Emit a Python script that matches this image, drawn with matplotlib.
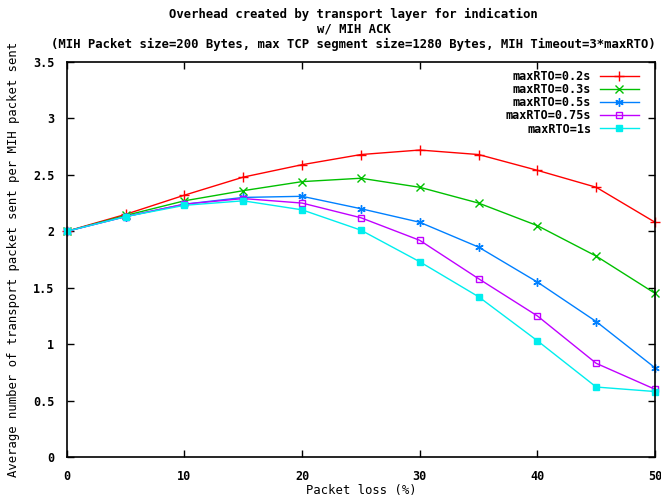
import matplotlib
matplotlib.use('Agg')
from matplotlib import pyplot as plt

packet_loss = [0, 5, 10, 15, 20, 25, 30, 35, 40, 45, 50]
rto_02 = [2.0, 2.15, 2.32, 2.48, 2.59, 2.68, 2.72, 2.68, 2.54, 2.39, 2.08]
rto_03 = [2.0, 2.14, 2.27, 2.36, 2.44, 2.47, 2.39, 2.25, 2.05, 1.78, 1.45]
rto_05 = [2.0, 2.13, 2.24, 2.30, 2.31, 2.20, 2.08, 1.86, 1.55, 1.20, 0.79]
rto_075 = [2.0, 2.13, 2.24, 2.29, 2.25, 2.12, 1.92, 1.58, 1.25, 0.83, 0.60]
rto_1 = [2.0, 2.13, 2.23, 2.27, 2.19, 2.01, 1.73, 1.42, 1.03, 0.62, 0.58]

series = {'maxRTO=0.2s': rto_02,
          'maxRTO=0.3s': rto_03,
          'maxRTO=0.5s': rto_05,
          'maxRTO=0.75s': rto_075,
          'maxRTO=1s': rto_1}

styles = {'maxRTO=0.2s': {'color': '#ff0000', 'marker': '+', 'mfc': 'none', 'ms': 7},
          'maxRTO=0.3s': {'color': '#00c000', 'marker': 'x', 'mfc': 'none', 'ms': 6},
          'maxRTO=0.5s': {'color': '#0080ff', 'marker': (6, 2, 0), 'mfc': 'none', 'ms': 6},
          'maxRTO=0.75s': {'color': '#c000ff', 'marker': 's', 'mfc': 'none', 'ms': 5},
          'maxRTO=1s': {'color': '#00eeee', 'marker': 's', 'mfc': '#00eeee', 'ms': 5}}

plt.rcParams['font.family'] = 'DejaVu Sans Mono'
plt.rcParams['font.weight'] = 'bold'
plt.rcParams['font.size'] = 8.5

fig = plt.figure(figsize=(6.61, 5), dpi=100)
ax = fig.add_axes([0.101, 0.086, 0.890, 0.790])

for name in series:
    st = styles[name]
    ax.plot(packet_loss, series[name], label=name, color=st['color'], marker=st['marker'],
            markerfacecolor=st['mfc'], markeredgecolor=st['color'], markersize=st['ms'],
            linewidth=1, markeredgewidth=1, clip_on=False)

ax.set_xlim(0, 50)
ax.set_ylim(0, 3.5)
ax.set_xticks([0, 10, 20, 30, 40, 50])
ax.set_yticks([0, 0.5, 1, 1.5, 2, 2.5, 3, 3.5])
ax.set_yticklabels(['0', '0.5', '1', '1.5', '2', '2.5', '3', '3.5'])
ax.tick_params(direction='in', top=True, right=True, length=5, width=1)
ax.tick_params(axis='x', pad=9)
ax.tick_params(axis='y', pad=9)
for sp in ax.spines.values():
    sp.set_linewidth(1.2)

ax.set_xlabel('Packet loss (%)', labelpad=1, fontsize=8.8)
ax.set_ylabel('Average number of transport packet sent per MIH packet sent', labelpad=9, fontsize=8.8)
fig.text(0.535, 0.985, 'Overhead created by transport layer for indication\nw/ MIH ACK\n'
         '(MIH Packet size=200 Bytes, max TCP segment size=1280 Bytes, MIH Timeout=3*maxRTO)',
         ha='center', va='top', linespacing=1.2, fontsize=8.8)

ax.legend(loc='upper right', frameon=False, markerfirst=False, handlelength=3.3,
          labelspacing=0.02, borderaxespad=0.25, handletextpad=0.7, fontsize=8.5,
          bbox_to_anchor=(0.985, 1.0))

fig.savefig('out.png', dpi=100)
